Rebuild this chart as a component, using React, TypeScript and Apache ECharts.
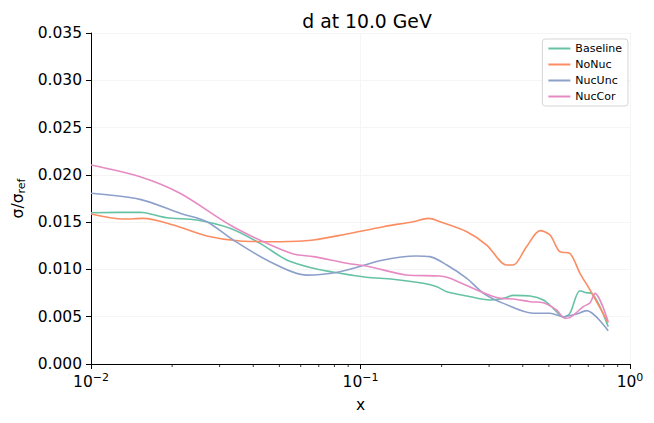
import React, { useEffect, useRef } from "react";
import * as echarts from "echarts";

const seriesNames = ["Baseline", "NoNuc", "NucUnc", "NucCor"];
const colors = ["#66c2a5", "#fc8d62", "#8da0cb", "#e78ac3"];

const baselineX = [0.01, 0.0152, 0.0191, 0.0247, 0.0328, 0.0424, 0.0532, 0.0669, 0.0839, 0.105, 0.132, 0.171, 0.192, 0.209, 0.248, 0.302, 0.339, 0.369, 0.426, 0.477, 0.519, 0.566, 0.598, 0.652, 0.69, 0.721, 0.83];
const baselineY = [0.016, 0.01604, 0.01547, 0.01523, 0.01435, 0.01276, 0.011, 0.01012, 0.00959, 0.00917, 0.00896, 0.00853, 0.00817, 0.00764, 0.00719, 0.00677, 0.00694, 0.00726, 0.00719, 0.00677, 0.00589, 0.00494, 0.00536, 0.00775, 0.00754, 0.00747, 0.00395];

const noNucX = [0.01, 0.0132, 0.0156, 0.0202, 0.0269, 0.0357, 0.0502, 0.0669, 0.0889, 0.1216, 0.157, 0.179, 0.197, 0.248, 0.294, 0.348, 0.369, 0.413, 0.464, 0.505, 0.549, 0.598, 0.652, 0.711, 0.83];
const noNucY = [0.01586, 0.01533, 0.0154, 0.0147, 0.01353, 0.01301, 0.01293, 0.01311, 0.01375, 0.01452, 0.01505, 0.0154, 0.01505, 0.01399, 0.01258, 0.01047, 0.01047, 0.0124, 0.0141, 0.01364, 0.01187, 0.0117, 0.00959, 0.00782, 0.00437];

const nucUncX = [0.01, 0.0152, 0.0214, 0.0269, 0.0337, 0.0461, 0.063, 0.0839, 0.1216, 0.161, 0.181, 0.209, 0.248, 0.286, 0.339, 0.438, 0.505, 0.566, 0.634, 0.69, 0.83];
const nucUncY = [0.01805, 0.01741, 0.01594, 0.01505, 0.01311, 0.01082, 0.0094, 0.00976, 0.011, 0.01142, 0.01135, 0.01047, 0.00906, 0.00747, 0.00641, 0.00536, 0.00536, 0.005, 0.00529, 0.00564, 0.00352];

const nucCorX = [0.01, 0.0152, 0.0214, 0.0328, 0.0449, 0.0564, 0.0669, 0.0889, 0.108, 0.148, 0.197, 0.215, 0.27, 0.33, 0.369, 0.426, 0.477, 0.534, 0.574, 0.598, 0.671, 0.711, 0.741, 0.83];
const nucCorY = [0.02104, 0.0198, 0.01805, 0.0147, 0.01276, 0.01163, 0.01135, 0.01065, 0.01029, 0.00941, 0.0093, 0.00906, 0.00782, 0.00694, 0.00687, 0.00659, 0.00648, 0.00571, 0.00483, 0.0049, 0.00606, 0.00648, 0.00747, 0.00447];

const minorTickX = [0.02, 0.03, 0.04, 0.05, 0.06, 0.07, 0.08, 0.09, 0.2, 0.3, 0.4, 0.5, 0.6, 0.7, 0.8, 0.9];
const majorTickExp = ["−2", "−1", "0"];

const seriesXs = [baselineX, noNucX, nucUncX, nucCorX];
const seriesYs = [baselineY, noNucY, nucUncY, nucCorY];

const FONT = "DejaVu Sans";

export default function App() {
  const ref = useRef<HTMLDivElement>(null);
  useEffect(() => {
    if (!ref.current) return;
    const chart = echarts.init(ref.current, null, { renderer: "svg" });
    const lineSeries = seriesNames.map((name, i) => ({
      name,
      type: "line",
      data: seriesXs[i].map((x, j) => [x, seriesYs[i][j]]),
      showSymbol: false,
      symbol: "none",
      smooth: 0.3,
      lineStyle: { color: colors[i], width: 1.6 },
      itemStyle: { color: colors[i] },
      z: 3,
    }));
    chart.setOption({
      animation: false,
      textStyle: { fontFamily: FONT },
      title: {
        text: "d at 10.0 GeV",
        left: 362,
        top: 7,
        textAlign: "center",
        textStyle: { fontFamily: FONT, fontSize: 18.8, fontWeight: "normal", color: "#000" },
      },
      legend: {
        orient: "vertical",
        right: 26,
        top: 39,
        data: seriesNames,
        icon: "rect",
        itemWidth: 22,
        itemHeight: 2,
        itemGap: 5,
        backgroundColor: "#fff",
        borderColor: "#d5d5d5",
        borderWidth: 1,
        borderRadius: 3,
        padding: [4, 6, 4, 6],
        textStyle: { fontFamily: FONT, fontSize: 11, color: "#000", padding: [0, 0, 0, 0] },
        z: 10,
      },
      grid: { left: 91, right: 24, top: 33, bottom: 59, containLabel: false },
      xAxis: {
        type: "log",
        logBase: 10,
        min: 0.01,
        max: 1,
        name: "x",
        nameLocation: "middle",
        nameGap: 33,
        nameTextStyle: { fontFamily: FONT, fontSize: 15.5, color: "#000" },
        axisLine: { show: true, onZero: false, lineStyle: { color: "#000", width: 1 } },
        axisTick: { show: true, inside: false, length: 5, lineStyle: { color: "#000" } },
        axisLabel: {
          margin: 8,
          color: "#000",
          fontFamily: FONT,
          fontSize: 15.5,
          formatter: (v: number) => {
            const e = Math.round(Math.log10(v));
            const idx = e + 2;
            return "10{sup|" + majorTickExp[idx] + "}";
          },
          rich: {
            sup: { fontSize: 11, verticalAlign: "top", padding: [0, 0, 8, 0], fontFamily: FONT, color: "#000" },
          },
        },
        splitLine: { show: true, lineStyle: { color: "#f5f5f5", width: 1 } },
      },
      yAxis: {
        type: "value",
        min: 0,
        max: 0.035,
        interval: 0.005,
        name: "σ/σ{sub|ref}",
        nameLocation: "middle",
        nameRotate: 90,
        nameGap: 63,
        nameTextStyle: {
          fontFamily: FONT,
          fontSize: 15.5,
          color: "#000",
          rich: { sub: { fontSize: 11, verticalAlign: "bottom", padding: [6, 0, 0, 0], fontFamily: FONT, color: "#000" } },
        },
        axisLine: { show: true, lineStyle: { color: "#000", width: 1 } },
        axisTick: { show: true, inside: false, length: 5, lineStyle: { color: "#000" } },
        axisLabel: {
          margin: 9,
          color: "#000",
          fontFamily: FONT,
          fontSize: 15.5,
          formatter: (v: number) => v.toFixed(3),
        },
        splitLine: { show: true, lineStyle: { color: "#f5f5f5", width: 1 } },
      },
      series: [
        ...lineSeries,
        {
          type: "custom",
          name: "minorTicks",
          silent: true,
          clip: false,
          data: minorTickX.map((x) => [x, 0]),
          renderItem: (_params: any, api: any) => {
            const p = api.coord([api.value(0), 0]);
            return {
              type: "line",
              shape: { x1: p[0], y1: p[1], x2: p[0], y2: p[1] + 3 },
              style: { stroke: "#000", lineWidth: 0.8 },
            };
          },
          z: 5,
        },
      ],
    });
    return () => chart.dispose();
  }, []);
  return <div ref={ref} style={{ width: 654, height: 423, position: "absolute", left: 0, top: 0 }} />;
}
